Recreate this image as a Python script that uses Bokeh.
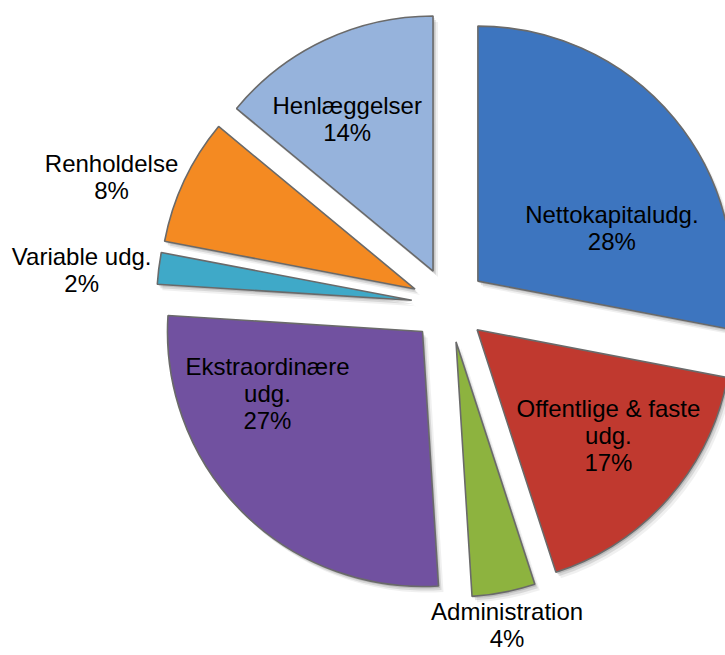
import numpy as np
from bokeh.plotting import figure
from bokeh.models import Range1d, ColumnDataSource
from bokeh.embed import file_html
from bokeh.resources import INLINE
from bokeh.core.properties import value

# ---- data ----
categories = ["Nettokapitaludg.", "Offentlige & faste udg.", "Administration",
              "Ekstraordinære udg.", "Variable udg.", "Renholdelse", "Henlæggelser"]
label_lines = [["Nettokapitaludg."], ["Offentlige & faste", "udg."], ["Administration"],
               ["Ekstraordinære", "udg."], ["Variable udg."], ["Renholdelse"], ["Henlæggelser"]]
shares = [28, 17, 4, 27, 2, 8, 14]
colors = ["#3d75bf", "#c0392f", "#8db33f", "#7151a0", "#3fa9c8", "#f48a22", "#96b3dc"]

# ---- layout (picture coordinates, y up) ----
W, H = 725, 655
CX, CY = 448.5, H - 304.5
R = 255
EXPLODE = 37.5
label_dang = [-14.4, 2.1, -0.5, -19.0, 1.7, 4.4, 3.5]
label_dist = [180, 206, 325, 202, 369, 361, 212]
LINE_STEP = 27

total = float(sum(shares))
cum = np.concatenate([[0], np.cumsum(shares)[:-1]])
start_deg = 90 - cum / total * 360
end_deg = start_deg - np.array(shares) / total * 360
bis_deg = (start_deg + end_deg) / 2
bis = np.radians(bis_deg)
vx = CX + EXPLODE * np.cos(bis)
vy = CY + EXPLODE * np.sin(bis)

src = ColumnDataSource(dict(x=vx, y=vy, start=np.radians(start_deg), end=np.radians(end_deg),
                            color=colors, cat=categories))

p = figure(width=W, height=H, output_backend="svg", toolbar_location=None,
           x_range=Range1d(0, W), y_range=Range1d(0, H),
           x_axis_type=None, y_axis_type=None, min_border=0)
p.grid.visible = False
p.outline_line_color = None
p.background_fill_color = "white"
p.border_fill_color = "white"

# soft shadows
for dx, dy, a in [(5, -6, 0.06), (3, -4, 0.10), (1.5, -2, 0.12)]:
    sh = ColumnDataSource(dict(x=vx + dx, y=vy + dy, start=np.radians(start_deg), end=np.radians(end_deg)))
    p.wedge(x="x", y="y", radius=R, start_angle="start", end_angle="end", direction="clock",
            source=sh, fill_color="black", fill_alpha=a, line_color=None)

p.wedge(x="x", y="y", radius=R, start_angle="start", end_angle="end", direction="clock",
        source=src, fill_color="color", line_color="#6a6a6a", line_width=1.6)

# labels
tx, ty, tt = [], [], []
for i, lines in enumerate(label_lines):
    a = np.radians(bis_deg[i] + label_dang[i])
    lx = CX + label_dist[i] * np.cos(a)
    ly = CY + label_dist[i] * np.sin(a)
    all_lines = lines + [f"{shares[i]}%"]
    n = len(all_lines)
    for k, s in enumerate(all_lines):
        tx.append(lx)
        ty.append(ly + ((n - 1) / 2 - k) * LINE_STEP)
        tt.append(s)

p.text(x=tx, y=ty, text=tt, text_align="center", text_baseline="middle",
       text_font=value("Liberation Sans"), text_font_size="24px", text_color="black")

open("out.html", "w").write(file_html(p, INLINE))
